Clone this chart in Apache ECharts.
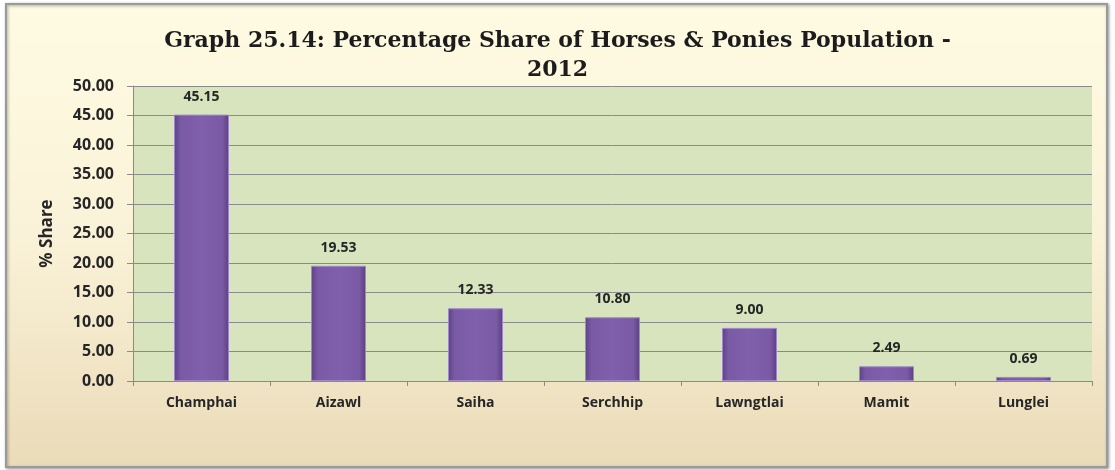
<!DOCTYPE html>
<html>
<head>
<meta charset="utf-8">
<script src="https://cdn.jsdelivr.net/npm/echarts@6/dist/echarts.min.js"></script>
<style>
  html, body { margin: 0; padding: 0; background: #ffffff; }
  #chart { width: 1115px; height: 470px; }
</style>
</head>
<body>
<div id="chart"></div>
<script>
// data
var districts = ['Champhai', 'Aizawl', 'Saiha', 'Serchhip', 'Lawngtlai', 'Mamit', 'Lunglei'];
var shares = [45.15, 19.53, 12.33, 10.80, 9.00, 2.49, 0.69];

var myChart = echarts.init(document.getElementById('chart'));

var option = {
  backgroundColor: '#ffffff',
  animation: false,
  graphic: [
    {
      type: 'rect',
      z: -10,
      shape: { x: 6, y: 4, width: 1101, height: 463 },
      style: {
        fill: new echarts.graphic.LinearGradient(0, 0, 0, 1, [
          { offset: 0, color: '#fefbe2' },
          { offset: 0.5, color: '#faf2d8' },
          { offset: 1, color: '#eadbb8' }
        ]),
        stroke: '#9a9a9a',
        lineWidth: 2,
        shadowBlur: 3,
        shadowColor: 'rgba(0,0,0,0.35)',
        shadowOffsetX: 1,
        shadowOffsetY: 1
      }
    }
  ],
  title: {
    text: 'Graph 25.14: Percentage Share of Horses & Ponies Population -\n2012',
    left: 'center',
    top: 22,
    textStyle: {
      fontFamily: 'DejaVu Serif',
      fontWeight: 'bold',
      fontSize: 22,
      lineHeight: 29,
      color: '#1c1c1c'
    }
  },
  grid: {
    left: 133,
    right: 23,
    top: 86,
    bottom: 89,
    show: true,
    backgroundColor: '#d8e4bd',
    borderWidth: 0
  },
  xAxis: {
    type: 'category',
    data: districts,
    axisLine: { lineStyle: { color: '#8a8a8a', width: 1 } },
    axisTick: { show: true, length: 5, alignWithLabel: false, lineStyle: { color: '#8a8a8a' } },
    axisLabel: {
      margin: 15,
      fontFamily: 'Open Sans',
      fontWeight: 'bold',
      fontSize: 14,
      color: '#262626'
    }
  },
  yAxis: {
    type: 'value',
    min: 0,
    max: 50,
    interval: 5,
    name: '% Share',
    nameLocation: 'middle',
    nameGap: 77,
    nameRotate: 90,
    nameTextStyle: {
      fontFamily: 'Open Sans',
      fontWeight: 'bold',
      fontSize: 17,
      color: '#262626'
    },
    axisLine: { show: true, lineStyle: { color: '#8a8a8a', width: 1 } },
    axisTick: { show: true, length: 6, lineStyle: { color: '#8a8a8a' } },
    axisLabel: {
      margin: 19,
      fontFamily: 'Open Sans',
      fontWeight: 'bold',
      fontSize: 16,
      color: '#262626',
      formatter: function (v) { return v.toFixed(2); }
    },
    splitLine: { lineStyle: { color: '#8a8a8a', width: 1 } }
  },
  series: [
    {
      type: 'bar',
      data: shares,
      barWidth: 55,
      itemStyle: {
        color: new echarts.graphic.LinearGradient(0, 0, 1, 0, [
          { offset: 0, color: '#5d4285' },
          { offset: 0.12, color: '#7a59a5' },
          { offset: 0.5, color: '#8060ac' },
          { offset: 0.88, color: '#7a59a5' },
          { offset: 1, color: '#5a3f80' }
        ]),
        borderColor: '#a088c8',
        borderWidth: 1
      },
      label: {
        show: true,
        position: 'top',
        distance: 11,
        fontFamily: 'Open Sans',
        fontWeight: 'bold',
        fontSize: 14,
        color: '#262626',
        formatter: function (p) { return p.value.toFixed(2); }
      }
    }
  ]
};

option && myChart.setOption(option);
</script>
</body>
</html>
